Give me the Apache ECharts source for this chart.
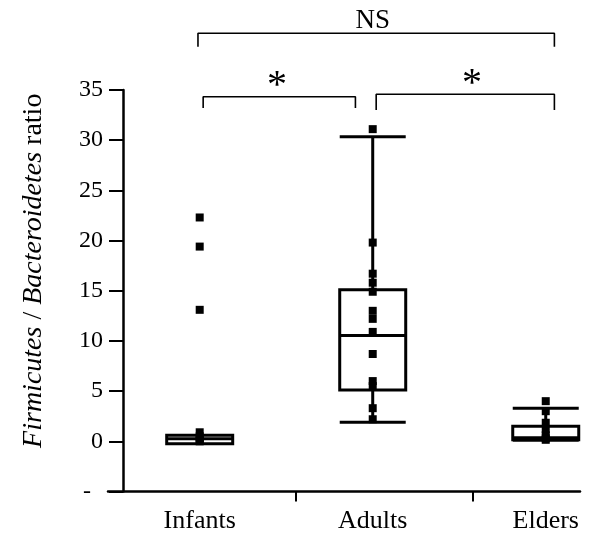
<!DOCTYPE html>
<html><head><meta charset="utf-8">
<script src="https://cdn.jsdelivr.net/npm/echarts@6/dist/echarts.min.js"></script>
<style>html,body{margin:0;padding:0;background:#fff}#c{width:600px;height:549px}</style>
</head><body><div id="c"></div>
<script>
// ---- data ----
const categories = ['Infants', 'Adults', 'Elders'];
// [min, Q1, median, Q3, max]
const infantsBox = [-0.25, -0.25, 0.25, 0.6, 0.6];
const adultsBox = [1.9, 5.1, 10.55, 15.1, 30.35];
const eldersBox = [0.1, 0.15, 0.35, 1.5, 3.3];
const infantsPoints = [22.3, 19.4, 13.1, 0.9, 0.5, 0.3, 0.1, 0.0];
const adultsPoints = [31.1, 19.8, 16.7, 15.8, 14.9, 13.0, 12.2, 10.9, 8.7, 6.0, 5.5, 3.3, 2.2];
const eldersPoints = [4.0, 3.0, 1.85, 1.2, 0.6, 0.3, 0.15];
const yTickLabels = ['-', '0', '5', '10', '15', '20', '25', '30', '35'];
const comparisons = [
  { from: 0, to: 2, label: 'NS' },
  { from: 0, to: 1, label: '*' },
  { from: 1, to: 2, label: '*' }
];

// ---- build ----
const boxes = [infantsBox, adultsBox, eldersBox];
const pointGroups = [infantsPoints, adultsPoints, eldersPoints];
const boxData = boxes.map((b, i) => [i].concat(b));
const scatterData = [];
pointGroups.forEach((g, i) => g.forEach(v => scatterData.push([i, v])));

// bracket layout (annotation geometry, in axis units)
const bracketLayout = [
  { x1: -0.01, x2: 2.05, top: 40.66, leg: 39.3, tx: 1.0, ty: 41.9, size: 27 },
  { x1: 0.02, x2: 0.90, top: 34.33, leg: 33.2, tx: 0.447, ty: 35.3, size: 40 },
  { x1: 1.02, x2: 2.05, top: 34.57, leg: 33.0, tx: 1.574, ty: 35.5, size: 40 }
];
const bracketSeries = comparisons.map((c, k) => {
  const b = bracketLayout[k];
  return {
    type: 'line', silent: true, clip: false, symbol: 'none', z: 5,
    lineStyle: { color: '#000', width: 1.6 },
    data: [[b.x1, b.leg], [b.x1, b.top], [b.x2, b.top], [b.x2, b.leg]]
  };
});

const FONT = 'Liberation Serif';
const chart = echarts.init(document.getElementById('c'), null, { renderer: 'canvas' });
chart.setOption({
  animation: false,
  backgroundColor: '#fff',
  grid: { left: 108, right: 20, top: 90, bottom: 57.5, containLabel: false },
  xAxis: {
    type: 'value', min: -0.53, max: 2.198,
    axisLine: { show: true, onZero: false, lineStyle: { color: '#000', width: 2.5 } },
    axisTick: { show: true, customValues: [0.555, 1.58], length: 10, lineStyle: { color: '#000', width: 2 } },
    axisLabel: {
      customValues: [0, 1, 2], margin: 17,
      formatter: v => categories[Math.round(v)],
      color: '#000', fontFamily: FONT, fontSize: 26
    },
    splitLine: { show: false }
  },
  yAxis: {
    type: 'value', min: -5, max: 35, interval: 5, offset: -15,
    axisLine: { show: true, onZero: false, lineStyle: { color: '#000', width: 2.5 } },
    axisTick: { show: true, length: 14, lineStyle: { color: '#000', width: 2 } },
    axisLabel: {
      margin: 20, color: '#000', fontFamily: FONT, fontSize: 24,
      formatter: v => { const i = Math.round((v + 5) / 5); return i === 0 ? yTickLabels[0] + '  ' : yTickLabels[i]; }
    },
    splitLine: { show: false },
    name: '{i|Firmicutes} / {i|Bacteroidetes} ratio',
    nameLocation: 'middle', nameGap: 75,
    nameTextStyle: {
      color: '#000', fontFamily: FONT, fontSize: 28, padding: [0, 0, 0, 40],
      rich: { i: { fontStyle: 'italic', fontFamily: FONT, fontSize: 28, color: '#000' } }
    }
  },
  series: [
    {
      type: 'boxplot', data: boxData, boxWidth: [66, 66], z: 2,
      itemStyle: { color: '#fff', borderColor: '#000', borderWidth: 3 },
      emphasis: { disabled: true }
    },
    {
      type: 'scatter', data: scatterData, symbol: 'rect', symbolSize: 8, clip: false, z: 3,
      itemStyle: { color: '#000', opacity: 1 }, emphasis: { disabled: true }
    }
  ].concat(bracketSeries)
});

const texts = comparisons.map((c, k) => {
  const b = bracketLayout[k];
  const p = chart.convertToPixel({ gridIndex: 0 }, [b.tx, b.ty]);
  return {
    type: 'text', x: p[0], y: p[1], silent: true,
    style: { text: c.label, fill: '#000', font: b.size + 'px "' + FONT + '"', textAlign: 'center', textVerticalAlign: 'middle' }
  };
});
chart.setOption({ graphic: texts });
</script>
</body></html>
